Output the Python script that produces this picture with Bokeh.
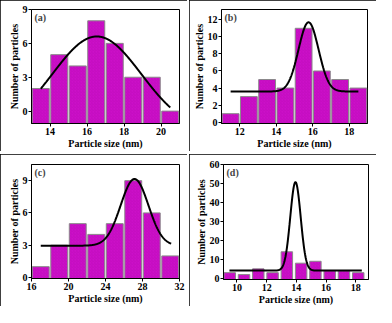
import numpy as np
from bokeh.plotting import figure
from bokeh.layouts import row, column
from bokeh.models import Range1d, FixedTicker, Label
from bokeh.embed import file_html
from bokeh.resources import INLINE

# ---- data ----
a_centers = [13.5, 14.5, 15.5, 16.5, 17.5, 18.5, 19.5, 20.5]
a_counts = [2, 5, 4, 8, 6, 3, 3, 0]
a_fit = [-1.82, 8.43, 16.53, 2.4, 13.5, 20.5]   # y0, A, xc, w, xmin, xmax

b_centers = [11.5, 12.5, 13.5, 14.5, 15.5, 16.5, 17.5, 18.5]
b_counts = [1, 3, 5, 4, 11, 6, 5, 4]
b_fit = [3.6, 8.1, 15.77, 0.55, 11.5, 18.5]

c_centers = [17, 19, 21, 23, 25, 27, 29, 31]
c_counts = [1, 3, 5, 4, 5, 9, 6, 2]
c_fit = [2.95, 6.2, 27.14, 1.5, 17.0, 31.1]

d_centers = [9.52, 10.48, 11.44, 12.40, 13.36, 14.32, 15.28, 16.24, 17.20, 18.16]
d_counts = [3, 2, 5, 3, 14, 8, 9, 4, 4, 3]
d_fit = [4.1, 46.6, 13.94, 0.35, 9.5, 18.4]

a_xticks = [14, 16, 18, 20]; a_yticks = [0, 3, 6, 9]
b_xticks = [12, 14, 16, 18]; b_yticks = [0, 2, 4, 6, 8, 10, 12]
c_xticks = [16, 20, 24, 28, 32]; c_yticks = [0, 3, 6, 9]
d_xticks = [10, 12, 14, 16, 18]; d_yticks = [0, 10, 20, 30, 40, 50, 60]

FONT = "Liberation Serif"
FS = "10px"


def panel(tag, centers, counts, fit, xr, yr, xticks, yticks, bw, fw, fh, ml, mr, mt, mb):
    p = figure(frame_width=fw, frame_height=fh, x_range=Range1d(*xr), y_range=Range1d(*yr),
               output_backend="svg", toolbar_location=None,
               min_border_left=ml, min_border_right=mr,
               min_border_top=mt, min_border_bottom=mb)
    p.styles = {"outline": "2px solid black", "outline-offset": "-2px"}
    p.grid.visible = False
    p.outline_line_color = "black"
    p.outline_line_width = 1
    p.background_fill_color = "white"
    p.border_fill_color = "white"

    p.vbar(x=centers, top=counts, bottom=yr[0], width=bw,
           fill_color="#CC10C8", line_color="#8a8a8a", line_width=1,
           hatch_pattern="right_diagonal_line", hatch_color="#9A009A",
           hatch_alpha=0.3, hatch_scale=3, hatch_weight=0.6)

    y0, A, xc, w, x0, x1 = fit
    xs = np.linspace(x0, x1, 400)
    ys = y0 + A * np.exp(-(xs - xc) ** 2 / (2 * w * w))
    p.line(xs, ys, line_color="black", line_width=2)

    for ax, ticks, lab in ((p.xaxis, xticks, "Particle size (nm)"),
                           (p.yaxis, yticks, "Number of particles")):
        ax.ticker = FixedTicker(ticks=ticks)
        ax.axis_label = lab
        ax.axis_label_text_font = FONT
        ax.axis_label_text_font_style = "bold"
        ax.axis_label_text_font_size = FS
        ax.axis_label_text_color = "black"
        ax.major_label_text_font = FONT
        ax.major_label_text_font_style = "bold"
        ax.major_label_text_font_size = FS
        ax.major_label_text_color = "black"
        ax.major_tick_out = 3
        ax.major_tick_in = 0
        ax.minor_tick_out = 0
        ax.minor_tick_in = 0
        ax.major_label_standoff = 1
        ax.axis_label_standoff = 0
        ax.axis_line_color = "black"
    p.add_layout(Label(x=xr[0], y=yr[1], x_offset=3, y_offset=-2, text=tag,
                       text_font=FONT, text_font_style="bold",
                       text_font_size=FS, text_baseline="top"))
    return p


pa = panel("(a)", a_centers, a_counts, a_fit, (13, 21), (-1.1, 9), a_xticks, a_yticks,
           0.92, 148, 114, 31, 8, 9, 25)
pb = panel("(b)", b_centers, b_counts, b_fit, (11, 19), (-0.15, 13.2), b_xticks, b_yticks,
           0.92, 146, 114, 32, 9, 9, 25)
pc = panel("(c)", c_centers, c_counts, c_fit, (16, 32), (-0.1, 10.5), c_xticks, c_yticks,
           1.83, 148, 114, 31, 8, 10, 28)
pd = panel("(d)", d_centers, d_counts, d_fit, (9.1, 18.85), (-0.6, 60), d_xticks, d_yticks,
           0.77, 145, 115, 34, 8, 9, 28)

layout = column(row(pa, pb, spacing=2), row(pc, pd, spacing=2), spacing=3)
open("out.html", "w").write(file_html(layout, INLINE))
